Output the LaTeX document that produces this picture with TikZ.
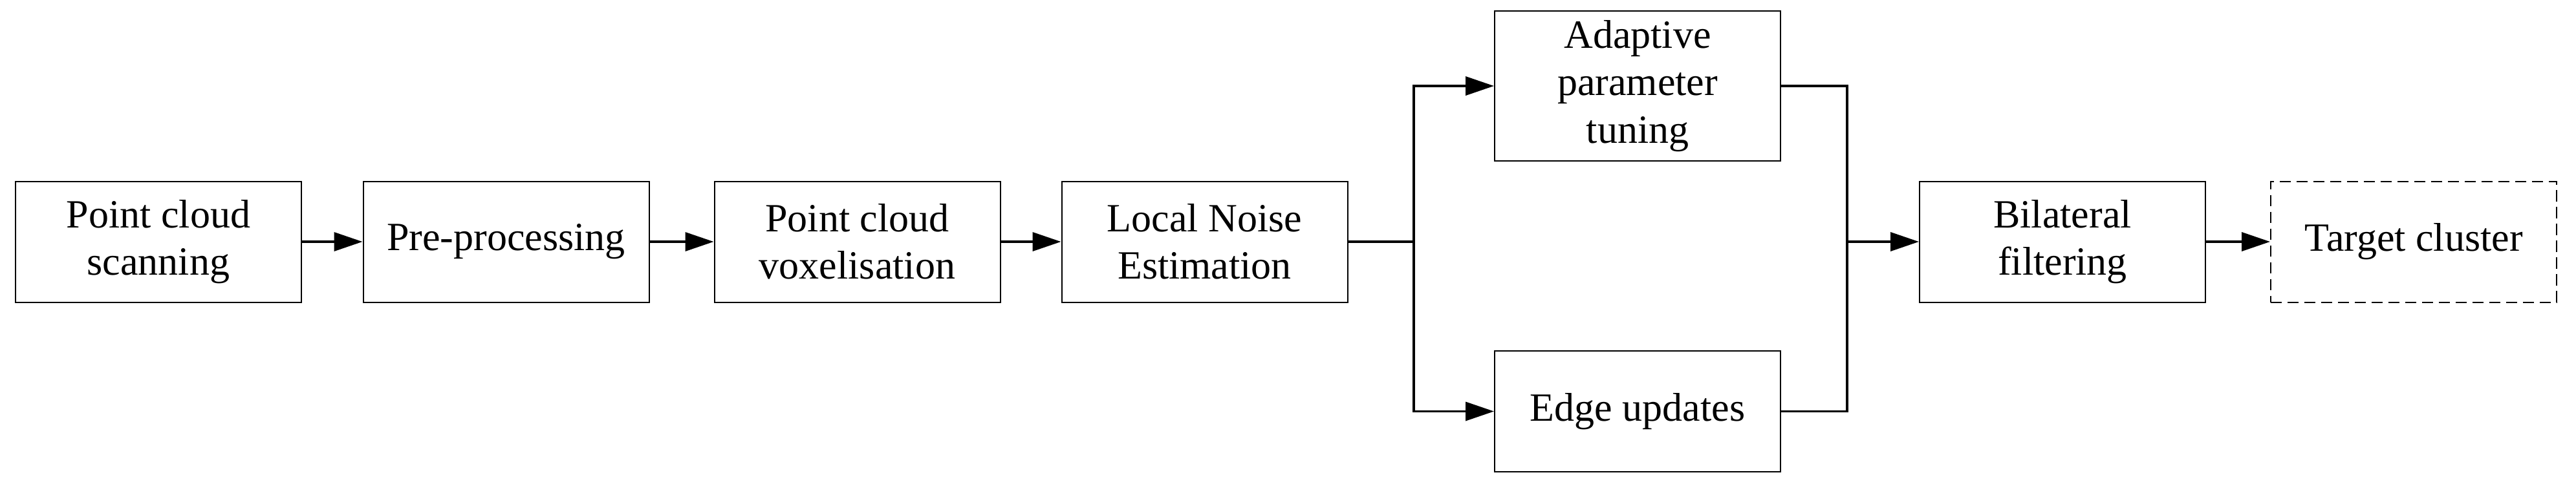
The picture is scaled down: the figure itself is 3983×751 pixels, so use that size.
\documentclass[tikz,border=0pt]{standalone}
\usepackage{fontspec}
\setmainfont{Liberation Serif}
\usetikzlibrary{arrows.meta}
\begin{document}
\begin{tikzpicture}[x=0.25pt,y=-0.25pt,
  stepbox/.style={draw=black, line width=0.5pt, minimum width=110.5pt, minimum height=46.75pt,
    inner sep=0pt, align=center, font=\fontsize{15.5pt}{18.3pt}\selectfont},
  tallbox/.style={stepbox, minimum height=58pt},
  dashbox/.style={stepbox, dash pattern=on 4.3pt off 2.2pt},
  conn/.style={line width=0.9pt},
  arr/.style={conn, -{Triangle[length=11pt,width=7.25pt]}}]
\useasboundingbox (0,0) rectangle (3983,751);
\node[stepbox] (b1) at (245,374) {Point cloud\\scanning};
\node[stepbox] (b2) at (782.5,374) {Pre-processing};
\node[stepbox] (b3) at (1325.5,374) {Point cloud\\voxelisation};
\node[stepbox] (b4) at (1862.5,374) {Local Noise\\Estimation};
\node[tallbox] (top) at (2532,133) {Adaptive\\parameter\\tuning};
\node[stepbox] (bot) at (2532,636.5) {Edge updates};
\node[stepbox] (bil) at (3189,374) {Bilateral\\filtering};
\node[dashbox] (tgt) at (3732,374) {Target cluster};
\coordinate (j1) at (2186,374);
\coordinate (j2) at (2856,374);
\draw[arr] (b1) -- (b2);
\draw[arr] (b2) -- (b3);
\draw[arr] (b3) -- (b4);
\draw[conn] (b4.east) -- (j1);
\draw[arr] (j1) |- (top.west);
\draw[arr] (j1) |- (bot.west);
\draw[conn] (top.east) -| (j2);
\draw[conn] (bot.east) -| (j2);
\draw[arr] (j2) -- (bil.west);
\draw[arr] (bil) -- (tgt);
\end{tikzpicture}
\end{document}
